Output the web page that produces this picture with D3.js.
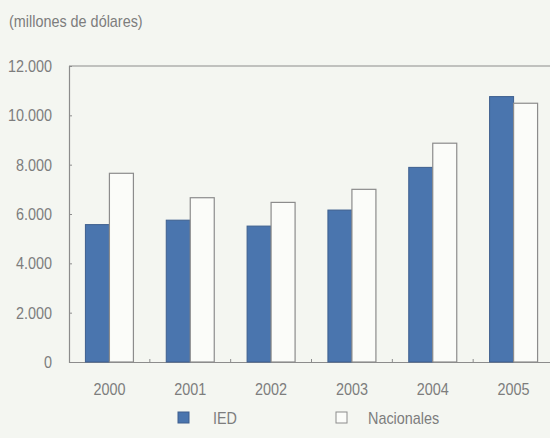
<!DOCTYPE html>
<html>
<head>
<meta charset="utf-8">
<script src="https://cdn.jsdelivr.net/npm/d3@7"></script>
<style>
  html, body { margin: 0; padding: 0; background: #f4f6f1; }
  svg { display: block; }
  text { font-family: "Liberation Sans", Arial, sans-serif; fill: #7d7d7d; }
</style>
</head>
<body>
<svg id="chart" width="550" height="438"></svg>
<script>
// Inversión por origen, millones de dólares
const years = ["2000", "2001", "2002", "2003", "2004", "2005"];
const ied = [5570, 5750, 5510, 6160, 7890, 10760];
const nacionales = [7650, 6660, 6470, 7000, 8870, 10490];
const yTicks = [0, 2000, 4000, 6000, 8000, 10000, 12000];
const seriesNames = ["IED", "Nacionales"];

const svg = d3.select("#chart");
const margin = { left: 69, top: 66, right: -4, bottom: 76 };
const W = 550, H = 438;
const FS = 16;     // font size for all labels
const SX = 0.9;    // horizontal squeeze for a condensed look
const axisColor = "#8c8c8c";

const x = d3.scaleBand().domain(years).range([margin.left, W - margin.right]).paddingInner(0).paddingOuter(0);
const y = d3.scaleLinear().domain([0, 12000]).range([H - margin.bottom, margin.top]);

const fmt = v => d3.format(",")(v).replace(/,/g, ".");

// condensed text: place at (px, py) then squeeze horizontally
function condense(sel, px, py) {
  sel.attr("x", null).attr("y", null).attr("dy", null)
    .attr("transform", (d, i, n) => {
      const ax = typeof px === "function" ? px(d, i) : px;
      const ay = typeof py === "function" ? py(d, i) : py;
      return `translate(${ax},${ay}) scale(${SX},1)`;
    });
}

// subtitle
svg.append("text").attr("font-size", FS).text("(millones de dólares)")
  .call(condense, 9, 27);

// top frame line
svg.append("line").attr("x1", margin.left).attr("x2", W).attr("y1", y(12000)).attr("y2", y(12000))
  .attr("stroke", axisColor).attr("stroke-width", 1.2);

// y axis
const yAxis = d3.axisLeft(y).tickValues(yTicks).tickSize(-3).tickFormat(fmt);
const gy = svg.append("g").attr("transform", `translate(${margin.left},0)`).call(yAxis);
gy.attr("font-size", null).attr("font-family", null);
gy.select(".domain").attr("stroke", axisColor).attr("stroke-width", 1.2);
gy.selectAll(".tick line").attr("stroke", axisColor).filter(d => d === 0 || d === 12000).remove();
gy.selectAll(".tick text").attr("font-size", FS).attr("fill", "#7d7d7d").call(condense, -17, 5.5);

// x axis
const xAxis = d3.axisBottom(x).tickSize(0);
const gx = svg.append("g").attr("transform", `translate(0,${y(0)})`).call(xAxis);
gx.attr("font-size", null).attr("font-family", null);
gx.select(".domain").attr("stroke", axisColor).attr("stroke-width", 1.2);
gx.selectAll(".tick text").attr("font-size", FS).attr("fill", "#7d7d7d").call(condense, 0, 33);

// small separators between year groups
svg.append("g").selectAll("line").data(years.slice(1)).join("line")
  .attr("x1", d => x(d)).attr("x2", d => x(d))
  .attr("y1", y(0)).attr("y2", y(0) - 3)
  .attr("stroke", axisColor);

// bars
const barW = 24;
const groupOffset = (x.bandwidth() - 2 * barW) / 2;
const g = svg.append("g");
g.selectAll("rect.ied").data(years).join("rect").attr("class", "ied")
  .attr("x", d => x(d) + groupOffset)
  .attr("y", (d, i) => y(ied[i]))
  .attr("width", barW)
  .attr("height", (d, i) => y(0) - y(ied[i]))
  .attr("fill", "#4a75ae").attr("stroke", "#3e5f8e").attr("stroke-width", 1);
g.selectAll("rect.nac").data(years).join("rect").attr("class", "nac")
  .attr("x", d => x(d) + groupOffset + barW)
  .attr("y", (d, i) => y(nacionales[i]))
  .attr("width", barW)
  .attr("height", (d, i) => y(0) - y(nacionales[i]))
  .attr("fill", "#fbfcf9").attr("stroke", axisColor).attr("stroke-width", 1.2);

// legend
const legend = svg.append("g");
const items = [
  { name: seriesNames[0], sx: 178, tx: 213, fill: "#4a75ae", stroke: "#3e5f8e" },
  { name: seriesNames[1], sx: 336, tx: 368, fill: "#fbfcf9", stroke: axisColor }
];
items.forEach(it => {
  legend.append("rect").attr("x", it.sx).attr("y", 412).attr("width", 11).attr("height", 11)
    .attr("fill", it.fill).attr("stroke", it.stroke);
  legend.append("text").attr("font-size", FS).text(it.name).call(condense, it.tx, 424);
});
</script>
</body>
</html>
